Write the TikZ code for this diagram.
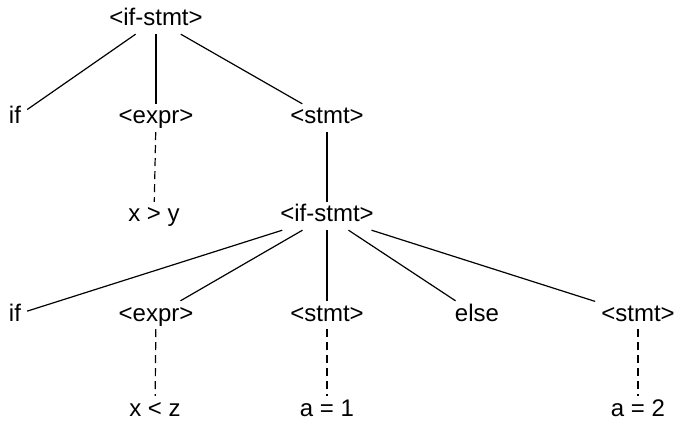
\documentclass[tikz,border=0pt]{standalone}
\usepackage{fontspec}
\setmainfont{Liberation Sans}
\usepackage{tikz}
\usetikzlibrary{positioning}

\begin{document}
\begin{tikzpicture}[x=1pt, y=-1pt,
  sym/.style={font=\fontsize{24}{28}\selectfont, inner xsep=6pt, inner ysep=3pt, text height=17pt, text depth=5pt},
  edge/.style={line width=1.2pt},
  derive/.style={line width=1.2pt, dash pattern=on 8pt off 5pt}]
\useasboundingbox (0,0) rectangle (677,422);
% top level
\node[sym] (ifstmt) at (156,20) {<if-stmt>};
\node[sym] (if) at (15,118) {if};
\node[sym] (expr) at (156,118) {<expr>};
\node[sym] (stmt) at (327,118) {<stmt>};
\node[sym] (xgty) at (154,216) {x > y};
% nested if
\node[sym] (inner) at (327,216) {<if-stmt>};
\node[sym] (ifb) at (15,315) {if};
\node[sym] (exprb) at (156,315) {<expr>};
\node[sym] (stmtb) at (327,315) {<stmt>};
\node[sym] (else) at (477,315) {else};
\node[sym] (stmtc) at (638,315) {<stmt>};
\node[sym] (xltz) at (155,410) {x < z};
\node[sym] (aone) at (327,410) {a = 1};
\node[sym] (atwo) at (638,410) {a = 2};
\draw[edge] (ifstmt) -- (if);
\draw[edge] (ifstmt) -- (expr);
\draw[edge] (ifstmt) -- (stmt);
\draw[derive] (expr) -- (xgty);
\draw[edge] (stmt) -- (inner);
\draw[edge] (inner) -- (ifb);
\draw[edge] (inner) -- (exprb);
\draw[edge] (inner) -- (stmtb);
\draw[edge] (inner) -- (else);
\draw[edge] (inner) -- (stmtc);
\draw[derive] (exprb) -- (xltz);
\draw[derive] (stmtb) -- (aone);
\draw[derive] (stmtc) -- (atwo);
\end{tikzpicture}
\end{document}
